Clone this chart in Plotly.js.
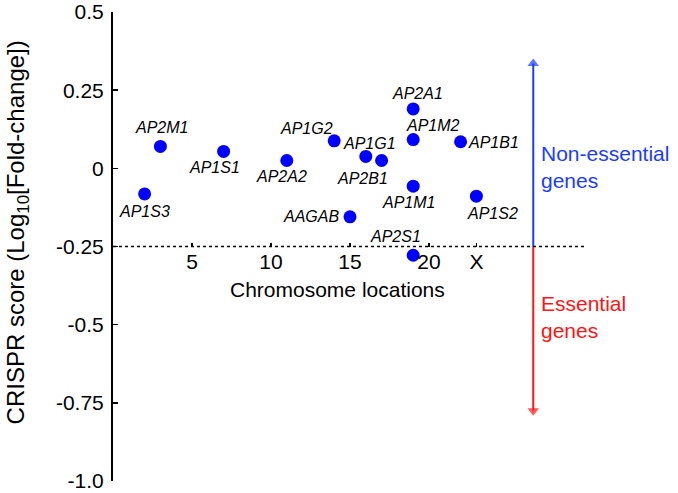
<!DOCTYPE html>
<html>
<head>
<meta charset="utf-8">
<script src="https://cdn.plot.ly/plotly-3.0.1.min.js"></script>
<style>
  html, body { margin: 0; padding: 0; background: #fff; }
  #chart { width: 678px; height: 493px; }
</style>
</head>
<body>
<div id="chart"></div>
<script>
// ---- Data ----
const genes = ["AP1S3", "AP2M1", "AP1S1", "AP2A2", "AP1G2", "AAGAB", "AP1G1", "AP2B1",
               "AP2A1", "AP1M2", "AP1M1", "AP2S1", "AP1B1", "AP1S2"];
const chromPos = [2, 3, 7, 11, 14, 15, 16, 17, 19, 19, 19, 19, 22, 23];
const crisprScore = [-0.082, 0.070, 0.054, 0.025, 0.088, -0.155, 0.038, 0.025,
                     0.190, 0.092, -0.057, -0.278, 0.085, -0.089];
const xTickVals = [5, 10, 15, 20, 23];
const xTickText = ["5", "10", "15", "20", "X"];
const yTickVals = [0.5, 0.25, 0, -0.25, -0.5, -0.75, -1.0];
const yTickText = ["0.5", "0.25", "0", "-0.25", "-0.5", "-0.75", "-1.0"];
const essentialThreshold = -0.25;

// ---- Layout / style settings ----
const FONT = "Liberation Sans, Arial, Helvetica, sans-serif";
const BLUE_DOT = "#0000ff";
const BLUE = "#1a3cff";
const RED = "#ff1414";
const labelOffsets = { // pixel offsets of gene labels from their points [dx, dy(down)]
  AP1S3: [0, 18], AP2M1: [1, -19], AP1S1: [-9, 16], AP2A2: [-5, 16],
  AP1G2: [-28, -12], AAGAB: [-39, 0], AP1G1: [4, -13], AP2B1: [-19, 18],
  AP2A1: [4, -15], AP1M2: [20, -14], AP1M1: [-5, 16], AP2S1: [-18, -19],
  AP1B1: [33, 1], AP1S2: [16, 17]
};
const lineEndX = 30;
const arrowX = 26.6, arrowTop = 0.335, arrowBottom = -0.775;
const xTitleX = 14.2;
const yTitleY = -0.205;

const points = {
  type: "scatter",
  mode: "markers",
  x: chromPos,
  y: crisprScore,
  text: genes,
  marker: { color: BLUE_DOT, size: 13 },
  hoverinfo: "text+y",
  showlegend: false
};

const upArrow = {
  type: "scatter", mode: "lines+markers",
  x: [arrowX, arrowX], y: [essentialThreshold, arrowTop],
  line: { color: BLUE, width: 2 },
  marker: { symbol: "triangle-up", size: [0, 10], color: BLUE, line: { width: 0 } },
  hoverinfo: "skip", showlegend: false, cliponaxis: false
};
const downArrow = {
  type: "scatter", mode: "lines+markers",
  x: [arrowX, arrowX], y: [essentialThreshold, arrowBottom],
  line: { color: RED, width: 2 },
  marker: { symbol: "triangle-down", size: [0, 10], color: RED, line: { width: 0 } },
  hoverinfo: "skip", showlegend: false, cliponaxis: false
};

const annotations = genes.map((g, i) => ({
  x: chromPos[i], y: crisprScore[i], xref: "x", yref: "y",
  text: "<i>" + g + "</i>", showarrow: false,
  xshift: labelOffsets[g][0], yshift: -labelOffsets[g][1],
  font: { family: FONT, size: 16, color: "#000" }
}));

// x-axis title (placed under the threshold line)
annotations.push({
  x: xTitleX, y: essentialThreshold, xref: "x", yref: "y", yshift: -43,
  showarrow: false, text: "Chromosome locations",
  font: { family: FONT, size: 21, color: "#000" }
});
// y-axis title
annotations.push({
  x: 0, y: yTitleY, xref: "x", yref: "y", xshift: -96,
  textangle: -90, showarrow: false,
  text: "CRISPR score (Log<sub>10</sub>[Fold-change])",
  font: { family: FONT, size: 24, color: "#000" }
});
annotations.push({
  x: arrowX, y: 0.005, xref: "x", yref: "y", xshift: 6,
  xanchor: "left", align: "left", showarrow: false,
  text: "Non-essential<br>genes",
  font: { family: FONT, size: 21, color: BLUE }
});
annotations.push({
  x: arrowX, y: -0.476, xref: "x", yref: "y", xshift: 6,
  xanchor: "left", align: "left", showarrow: false,
  text: "Essential<br>genes",
  font: { family: FONT, size: 21, color: RED }
});

const layout = {
  width: 678, height: 493,
  margin: { l: 113, r: 0, t: 12, b: 12 },
  paper_bgcolor: "#fff", plot_bgcolor: "#fff",
  font: { family: FONT, color: "#000" },
  showlegend: false,
  xaxis: {
    range: [0, 35.76],
    anchor: "free", position: 0.5,
    showline: false, showgrid: false, zeroline: false,
    ticks: "inside", ticklen: 4, tickwidth: 1.5, tickcolor: "#000",
    tickmode: "array", tickvals: xTickVals, ticktext: xTickText,
    tickfont: { family: FONT, size: 21, color: "#000" }
  },
  yaxis: {
    range: [-1.0, 0.5],
    showline: true, linecolor: "#000", linewidth: 2,
    showgrid: false, zeroline: false,
    ticks: "inside", ticklen: 5, tickwidth: 1.5, tickcolor: "#000",
    tickmode: "array", tickvals: yTickVals, ticktext: yTickText,
    tickfont: { family: FONT, size: 21, color: "#000" },
    ticklabelstandoff: 3,
    ticklabeloverflow: "allow"
  },
  shapes: [{
    type: "line", xref: "x", yref: "y",
    x0: 0, x1: lineEndX, y0: essentialThreshold, y1: essentialThreshold,
    line: { color: "#000", width: 1.5, dash: "dot" }
  }],
  annotations: annotations
};

Plotly.newPlot("chart", [points, upArrow, downArrow], layout, { displayModeBar: false, staticPlot: true });
</script>
</body>
</html>
